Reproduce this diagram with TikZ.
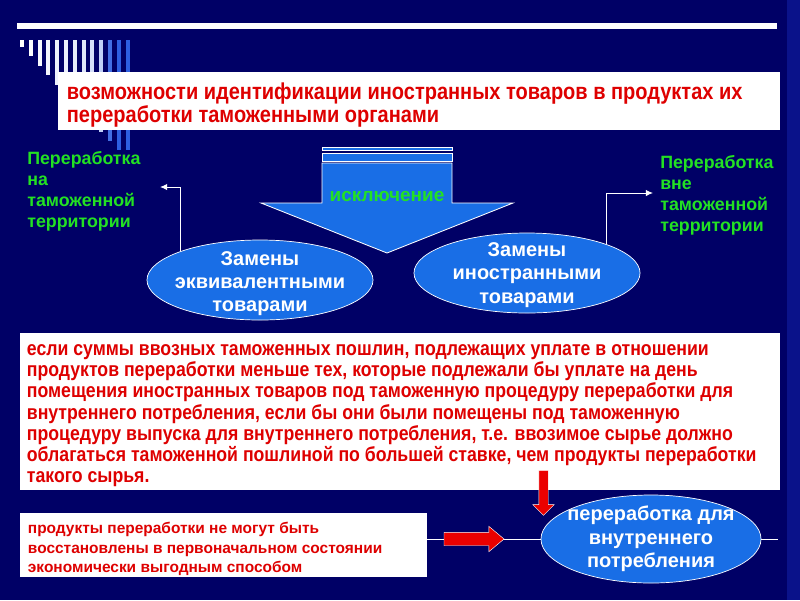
\documentclass[tikz,border=0pt]{standalone}
\usepackage{fontspec}
\setmainfont{Liberation Sans}
\newfontfamily\narrowface{Liberation Sans}[FakeStretch=0.87]
\usepackage{xcolor}
\usepackage{tikz}
\usetikzlibrary{shapes,positioning,arrows,arrows.meta}

\definecolor{slideNavy}{RGB}{0,0,102}
\definecolor{edgeNavy}{RGB}{10,18,138}
\definecolor{shapeBlue}{RGB}{25,110,230}
\definecolor{labelGreen}{RGB}{35,225,35}
\definecolor{textRed}{RGB}{222,0,0}
\definecolor{barBlue}{RGB}{45,95,225}

\begin{document}
\begin{tikzpicture}[
    % Define node styles
    x=0.025cm, y=-0.025cm,
    panel/.style={rectangle, fill=white, inner sep=0pt},
    redtext/.style={text=textRed, align=left, inner sep=0pt, anchor=north west},
    tag/.style={text=labelGreen, align=left, inner sep=0pt, anchor=north west, font=\bfseries\fontsize{12.66}{15}\selectfont},
    oval/.style={ellipse, fill=shapeBlue, draw=white, line width=0.5pt, inner sep=0pt},
    ovaltext/.style={text=white, align=center, inner sep=0pt, font=\bfseries\fontsize{14.2}{16.6}\selectfont},
    link/.style={draw=white, line width=0.7pt, -{Latex[length=5pt,width=4.5pt]}},
    wire/.style={draw=white, line width=0.7pt},
    redarrow/.style={single arrow, fill=red!92!black, draw=white, line width=0.3pt, inner xsep=0pt, single arrow head extend=0.15cm},
]

% Slide background and decoration
\fill[slideNavy] (0,0) rectangle (800,600);
\fill[edgeNavy] (787,0) rectangle (800,600);
\fill[white] (17,23) rectangle (777,29);
\foreach \i/\shade in {0/100,1/98,2/96,3/94,4/92,5/90,6/88,7/85,8/80,9/70,10/10,11/0,12/0}
    \fill[white!\shade!barBlue] (20+8.8*\i,40) rectangle ++(4,{min(7+9.4*\i,110)});

% Main nodes
\node[panel, minimum width=18.05cm, minimum height=1.45cm] (aimBox) at (419,101) {};
\node[redtext, font=\narrowface\bfseries\fontsize{16.35}{16.4}\selectfont] (aimText)
    at ([shift={(9,11.2)}]aimBox.north west)
    {возможности идентификации иностранных товаров в продуктах их\\
     переработки таможенными органами};

\node[tag] (inLbl) at (27,151) {Переработка\\на\\таможенной\\территории};
\node[tag] (outLbl) at (660,155) {Переработка\\вне\\таможенной\\территории};

% Block arrow
\filldraw[fill=shapeBlue, draw=white, line width=0.6pt] (322,147) rectangle (452,150);
\filldraw[fill=shapeBlue, draw=white, line width=0.6pt] (322,153) rectangle (452,161);
\filldraw[fill=shapeBlue, draw=white, line width=0.6pt]
    (322,163) -- (452,163) -- (452,203) -- (513,203) -- (387,253) -- (261,203) -- (322,203) -- cycle;
\node[text=labelGreen, font=\bfseries\fontsize{13.5}{16}\selectfont] (exclLbl) at (387,196) {исключение};

\node[oval, minimum width=5.65cm, minimum height=2cm,
      label={[ovaltext, yshift=-0.09cm]center:{Замены\\эквивалентными\\товарами}}] (eqvOval) at (260,280) {};
\node[oval, minimum width=5.65cm, minimum height=2cm,
      label={[ovaltext, yshift=-0.05cm]center:{Замены\\иностранными\\товарами}}] (forOval) at (527,273) {};

\node[panel, minimum width=19cm, minimum height=3.925cm] (condBox) at (400,411.5) {};
\node[redtext, font=\narrowface\bfseries\fontsize{14.45}{15.1}\selectfont] (condText)
    at ([shift={(7,11.5)}]condBox.north west)
    {если суммы ввозных таможенных пошлин, подлежащих уплате в отношении\\
     продуктов переработки меньше тех, которые подлежали бы уплате на день\\
     помещения иностранных товаров под таможенную процедуру переработки для\\
     внутреннего потребления, если бы они были помещены под таможенную\\
     процедуру выпуска для внутреннего потребления, т.е. ввозимое сырье должно\\
     облагаться таможенной пошлиной по большей ставке, чем продукты переработки\\
     такого сырья.};

\node[panel, minimum width=10.175cm, minimum height=1.6cm] (costBox) at (223.5,545) {};
\node[redtext, font=\bfseries\fontsize{11}{13.9}\selectfont] (costText)
    at ([shift={(8,9.2)}]costBox.north west)
    {продукты переработки не могут быть\\
     восстановлены в первоначальном состоянии\\
     экономически выгодным способом};

\node[oval, minimum width=5.5cm, minimum height=2.2cm,
      label={[ovaltext]center:{переработка для\\внутреннего\\потребления}}] (useOval) at (651,539) {};

% Connectors
\coordinate (inTip) at (160,187);
\coordinate (outTip) at (653,193);
\coordinate (lineEnd) at (778,539);
\draw[link] (eqvOval.160) |- (inTip);
\draw[link] (forOval.20) |- (outTip);

\draw[wire] (costBox.east |- useOval.center) -- (useOval.west);
\draw[wire] (useOval.east) -- (lineEnd);

\node[redarrow, minimum height=1.5cm, minimum width=0.625cm, inner ysep=0.1625cm,
      single arrow tip angle=80] (pushArrow) at (470,539) {};
\node[redarrow, minimum height=1.125cm, minimum width=0.525cm, inner ysep=0.1125cm,
      rotate=-90] (dropArrow) at (543.5,490.5) {};

\end{tikzpicture}
\end{document}
